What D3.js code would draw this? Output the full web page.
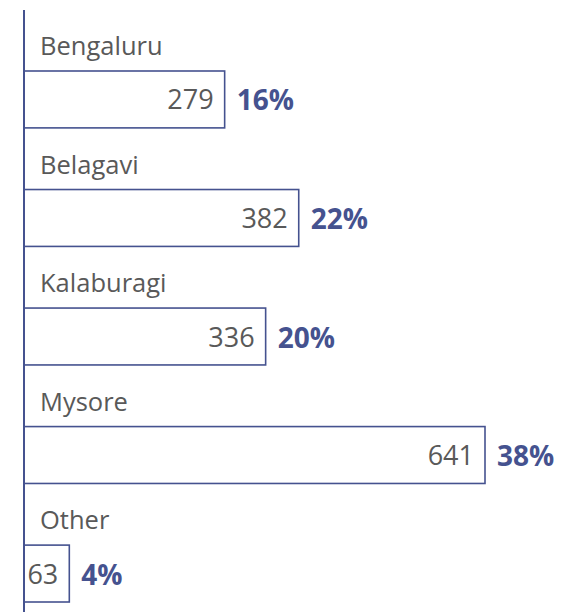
<!DOCTYPE html>
<html>
<head>
<meta charset="utf-8">
<script src="https://cdn.jsdelivr.net/npm/d3@7"></script>
<style>
  html, body { margin: 0; padding: 0; background: #fff; }
  svg { display: block; }
</style>
</head>
<body>
<div id="chart"></div>
<script>
const categories = ["Bengaluru", "Belagavi", "Kalaburagi", "Mysore", "Other"];
const counts = [279, 382, 336, 641, 63];
const percents = ["16%", "22%", "20%", "38%", "4%"];

const W = 579, H = 612;
const axisX = 24;
const blue = "#45528f";
const grey = "#595959";
const font = "'Open Sans', 'Noto Sans', sans-serif";

const svg = d3.select("#chart").append("svg")
  .attr("width", W).attr("height", H);

const x = d3.scaleLinear().domain([0, 641]).range([axisX, 485]);
const y = d3.scaleBand().domain(categories).range([71, 602]).paddingInner(0.52).paddingOuter(0);

const rows = categories.map((c, i) => ({ cat: c, v: counts[i], p: percents[i] }));

const g = svg.selectAll("g.row").data(rows).enter().append("g").attr("class", "row");

g.append("rect")
  .attr("x", x(0))
  .attr("y", d => y(d.cat))
  .attr("width", d => x(d.v) - x(0))
  .attr("height", y.bandwidth())
  .attr("fill", "#fff")
  .attr("stroke", blue)
  .attr("stroke-width", 1.6);

g.append("text")
  .attr("x", 40)
  .attr("y", d => y(d.cat) - 16)
  .attr("font-family", font)
  .attr("font-size", 25.5)
  .attr("fill", grey)
  .text(d => d.cat);

g.append("text")
  .attr("x", d => x(d.v) - 11)
  .attr("y", d => y(d.cat) + y.bandwidth() / 2 + 10)
  .attr("text-anchor", "end")
  .attr("font-family", font)
  .attr("font-size", 27)
  .attr("fill", grey)
  .text(d => d.v);

g.append("text")
  .attr("x", d => x(d.v) + 12)
  .attr("y", d => y(d.cat) + y.bandwidth() / 2 + 11)
  .attr("font-family", font)
  .attr("font-size", 28)
  .attr("font-weight", 700)
  .attr("fill", blue)
  .text(d => d.p);

svg.append("line")
  .attr("x1", axisX).attr("x2", axisX)
  .attr("y1", 10).attr("y2", H)
  .attr("stroke", blue)
  .attr("stroke-width", 2);
</script>
</body>
</html>
